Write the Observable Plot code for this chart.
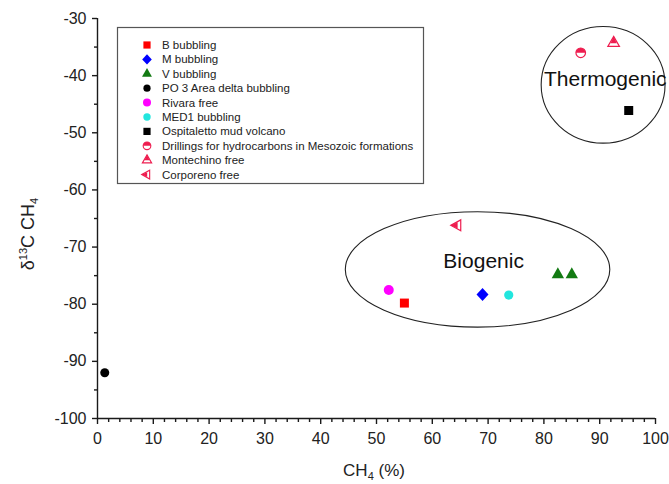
<!DOCTYPE html>
<html><head><meta charset="utf-8">
<script src="https://cdn.jsdelivr.net/npm/d3@7"></script>
<script src="https://cdn.jsdelivr.net/npm/@observablehq/plot@0.6"></script>
<style>
body{margin:0;background:#fff;font-family:"Liberation Sans",Arial,sans-serif}
#chart{position:relative;width:669px;height:484px}
</style>
</head><body><div id="chart"></div>
<script>
// ---- data ----
const seriesNames = ["B bubbling","M bubbling","V bubbling","PO 3 Area delta bubbling","Rivara free","MED1 bubbling","Ospitaletto mud volcano","Drillings for hydrocarbons in Mesozoic formations","Montechino free","Corporeno free"];
const ch4Values  = [[55.0],[69.0],[82.5,85.0],[1.3],[52.2],[73.7],[95.2],[86.6],[92.5],[64.5]];
const d13cValues = [[-79.8],[-78.3],[-74.8,-74.8],[-92.0],[-77.5],[-78.4],[-46.1],[-36.0],[-34.3],[-66.2]];
const xTicks = [0,10,20,30,40,50,60,70,80,90,100];
const xMinorTicks = [2,4,6,8,12,14,16,18,22,24,26,28,32,34,36,38,42,44,46,48,52,54,56,58,62,64,66,68,72,74,76,78,82,84,86,88,92,94,96,98];
const yTicks = [-30,-40,-50,-60,-70,-80,-90,-100];
const yMinorTicks = [-35,-45,-55,-65,-75,-85,-95];
const groupLabels = ["Biogenic","Thermogenic"];
const groupLabelX = [69.2, 91.0];
const groupLabelY = [-72.5, -40.6];
const ellipseCx = [68.2, 90.7];
const ellipseCy = [-74.0, -41.7];
const ellipseRx = [23.7, 11.1];
const ellipseRy = [10.1, 10.2];

// ---- symbols (pixel shapes) ----
const sym = {
  square: s => ({draw(c){c.rect(-s,-s,2*s,2*s);}}),
  diamond: (w,h) => ({draw(c){c.moveTo(0,-h);c.lineTo(w,0);c.lineTo(0,h);c.lineTo(-w,0);c.closePath();}}),
  triUp: (w,h) => ({draw(c){c.moveTo(0,-h*2/3);c.lineTo(w,h/3);c.lineTo(-w,h/3);c.closePath();}}),
  triUpTop: (w,h) => ({draw(c){const k=w*0.55;c.moveTo(0,-h*2/3);c.lineTo(k,h*0.5/3-h*0.45/3);c.lineTo(-k,h*0.5/3-h*0.45/3);c.closePath();}}),
  triLeft: (w,h) => ({draw(c){c.moveTo(-w*2/3,0);c.lineTo(w/3,-h);c.lineTo(w/3,h);c.closePath();}}),
  triLeftTip: (w,h) => ({draw(c){const k=h*0.55;c.moveTo(-w*2/3,0);c.lineTo(0.02*w,-k);c.lineTo(0.02*w,k);c.closePath();}}),
  circle: r => ({draw(c){c.moveTo(r,0);c.arc(0,0,r,0,2*Math.PI);c.closePath();}}),
  halfTop: r => ({draw(c){c.moveTo(r,0);c.arc(0,0,r,0,Math.PI,true);c.closePath();}})
};
const red2 = "#ee1d4f";
const styles = [
  [{s:sym.square(4.5), fill:"#ff0000"}],
  [{s:sym.diamond(6,6.5), fill:"#0000ff"}],
  [{s:sym.triUp(6.2,11), fill:"#127a12"}],
  [{s:sym.circle(4.5), fill:"#000"}],
  [{s:sym.circle(5), fill:"#ff00ff"}],
  [{s:sym.circle(4.6), fill:"#22e6de"}],
  [{s:sym.square(4.5), fill:"#000"}],
  [{s:sym.circle(4.8), fill:"#fff", stroke:red2}, {s:sym.halfTop(4.8), fill:red2}],
  [{s:sym.triUp(5.8,10), fill:"#fff", stroke:red2}, {s:sym.triUpTop(5.8,10), fill:red2}],
  [{s:sym.triLeft(10,5.5), fill:"#fff", stroke:red2}, {s:sym.triLeftTip(10,5.5), fill:red2}]
];

const rows = seriesNames.flatMap((name,i) => ch4Values[i].map((x,j) => ({name, i, x, y: d13cValues[i][j]})));

const dotMarks = [];
styles.forEach((layers,i) => {
  const data = rows.filter(d => d.i === i);
  layers.forEach(L => dotMarks.push(Plot.dot(data, {x:"x", y:"y", r:4, symbol: L.s, fill: L.fill, stroke: L.stroke || "none", strokeWidth: 1.2})));
});

const axisColor = "#1a1a1a";
const ellipseMark = (index, scales) => {
  const g = d3.create("svg:g");
  ellipseCx.forEach((cx,i) => {
    const X = scales.x(cx), Y = scales.y(ellipseCy[i]);
    g.append("ellipse").attr("cx",X).attr("cy",Y)
      .attr("rx", Math.abs(scales.x(cx+ellipseRx[i]) - X))
      .attr("ry", Math.abs(scales.y(ellipseCy[i]+ellipseRy[i]) - Y))
      .attr("fill","none").attr("stroke","#222").attr("stroke-width",1.1);
  });
  return g.node();
};

const plot = Plot.plot({
  width: 669, height: 484,
  marginLeft: 97, marginRight: 14, marginTop: 18, marginBottom: 66,
  style: {fontFamily: '"Liberation Sans", Arial, sans-serif', background: "#fff", color: "#222"},
  x: {domain: [0,100]},
  y: {domain: [-100,-30]},
  marks: [
    Plot.axisX({ticks: xTicks, tickSize: 0, tickPadding: 14, fontSize: 16, label: null, tickFormat: d => String(d), fill: "#222"}),
    Plot.axisY({ticks: yTicks, tickSize: 0, tickPadding: 11, fontSize: 16, label: null, tickFormat: d => String(d), fill: "#222"}),
    Plot.axisX({ticks: xTicks, tickSize: 6, text: null, label: null, stroke: axisColor, strokeWidth: 1.4}),
    Plot.axisX({ticks: xMinorTicks, tickSize: 4, text: null, label: null, stroke: axisColor, strokeWidth: 1.4}),
    Plot.axisY({ticks: yTicks, tickSize: 5, text: null, label: null, stroke: axisColor, strokeWidth: 1.4}),
    Plot.axisY({ticks: yMinorTicks, tickSize: 3, text: null, label: null, stroke: axisColor, strokeWidth: 1.4}),
    Plot.ruleX([0], {y1: -100, y2: -30, stroke: axisColor, strokeWidth: 1.4}),
    Plot.ruleY([-100], {x1: 0, x2: 100, stroke: axisColor, strokeWidth: 1.4}),
    ellipseMark,
    Plot.text(groupLabels, {x: (d,i) => groupLabelX[i], y: (d,i) => groupLabelY[i], text: d => d, fontSize: 21, fill: "#111"}),
    ...dotMarks
  ]
});

const svg = d3.select(plot);
// axis titles
const yl = svg.append("text").attr("transform","translate(34,234) rotate(-90)")
  .attr("text-anchor","middle").attr("font-size",18).attr("fill","#222");
yl.append("tspan").text("δ");
yl.append("tspan").attr("font-size",11).attr("dy",-7).text("13");
yl.append("tspan").attr("dy",7).text("C CH");
yl.append("tspan").attr("font-size",11).attr("dy",4).text("4");
const xl = svg.append("text").attr("x",374).attr("y",476).attr("text-anchor","middle").attr("font-size",17).attr("fill","#222");
xl.append("tspan").text("CH");
xl.append("tspan").attr("font-size",11).attr("dy",4).text("4");
xl.append("tspan").attr("dy",-4).text(" (%)");

// legend
const lg = svg.append("g").attr("text-anchor","start");
lg.append("rect").attr("x",117.5).attr("y",27.5).attr("width",306).attr("height",156)
  .attr("fill","#fff").attr("stroke","#555").attr("stroke-width",1.2);
seriesNames.forEach((name,i) => {
  const cy = 45 + i*14.4;
  const gi = lg.append("g").attr("transform",`translate(147,${cy}) scale(0.8)`);
  styles[i].forEach(L => {
    gi.append("path").attr("d", d3.symbol(L.s)()).attr("fill", L.fill).attr("stroke", L.stroke || "none").attr("stroke-width", 1.4);
  });
  lg.append("text").attr("x",162).attr("y",cy+4).attr("font-size",11.5).attr("fill","#222").attr("text-anchor","start").text(name);
});

document.getElementById("chart").appendChild(plot);
</script>
</body></html>
